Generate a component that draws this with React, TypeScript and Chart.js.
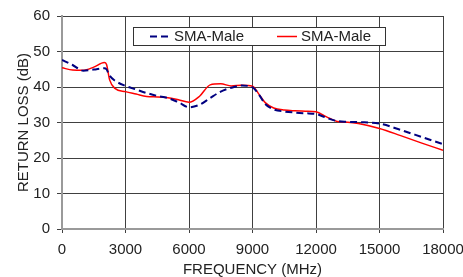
import React, { useEffect, useRef } from "react";
import { Chart, registerables } from "chart.js";

Chart.register(...registerables);

const frequencies = [0, 500, 1000, 1500, 2000, 2100, 2250, 2500, 3000, 3500, 4000, 4500, 5000, 5500, 6000, 6500, 7000, 7500, 8000, 8500, 9000, 9300, 9600, 10000, 10500, 11000, 11500, 12000, 12500, 13000, 13500, 14000, 15000, 16000, 17000, 18000];
const seriesA = [47.6, 46.2, 44.6, 44.9, 45.3, 45.0, 43.2, 41.8, 40.3, 39.3, 38.3, 37.5, 36.9, 35.7, 34.3, 35.0, 36.9, 38.7, 39.8, 40.4, 39.9, 37.9, 35.2, 33.7, 33.1, 32.8, 32.6, 32.4, 31.3, 30.4, 30.2, 30.1, 29.7, 27.9, 25.9, 23.9];
const seriesB = [45.4, 44.8, 44.7, 45.6, 46.9, 46.4, 42.0, 39.6, 38.7, 38.0, 37.3, 37.2, 37.0, 36.4, 35.7, 37.4, 40.6, 40.9, 40.3, 40.5, 40.2, 38.0, 35.6, 34.1, 33.5, 33.3, 33.2, 33.0, 31.6, 30.3, 30.1, 29.7, 28.3, 26.3, 24.2, 22.2];
const seriesLabels = ["SMA-Male", "SMA-Male"];
const xTitle = "FREQUENCY (MHz)";
const yTitle = "RETURN LOSS (dB)";

const FONT = "'Liberation Sans', Arial, sans-serif";
const TEXT = "#222222";

const legendPlugin = {
  id: "boxLegend",
  afterDraw(chart: any) {
    const ctx = chart.ctx;
    const x0 = 133.5, y0 = 27.5, w = 252, h = 18;
    ctx.save();
    ctx.fillStyle = "#ffffff";
    ctx.fillRect(x0, y0, w, h);
    ctx.strokeStyle = "#333333";
    ctx.lineWidth = 1;
    ctx.strokeRect(x0, y0, w, h);
    const cy = y0 + h / 2;
    const items = [
      { sx: 150, ex: 172, tx: 174 },
      { sx: 277, ex: 297, tx: 301 },
    ];
    chart.data.datasets.forEach((ds: any, i: number) => {
      const it = items[i];
      ctx.beginPath();
      ctx.strokeStyle = ds.borderColor;
      ctx.lineWidth = ds.borderWidth;
      ctx.setLineDash(ds.borderDash || []);
      ctx.moveTo(it.sx, cy);
      ctx.lineTo(it.ex, cy);
      ctx.stroke();
      ctx.setLineDash([]);
      ctx.fillStyle = TEXT;
      ctx.font = `15px ${FONT}`;
      ctx.textBaseline = "middle";
      ctx.textAlign = "left";
      ctx.fillText(ds.label, it.tx, cy + 0.5);
    });
    ctx.restore();
  },
};

export default function App() {
  const ref = useRef<HTMLCanvasElement | null>(null);
  useEffect(() => {
    if (!ref.current) return;
    const chart = new Chart(ref.current, {
      type: "line",
      data: {
        datasets: [
          {
            label: seriesLabels[0],
            data: frequencies.map((f, i) => ({ x: f, y: seriesA[i] })),
            borderColor: "#000080",
            borderWidth: 2,
            borderDash: [7, 4],
            pointRadius: 0,
            cubicInterpolationMode: "monotone",
            fill: false,
          },
          {
            label: seriesLabels[1],
            data: frequencies.map((f, i) => ({ x: f, y: seriesB[i] })),
            borderColor: "#ff0000",
            borderWidth: 1.5,
            pointRadius: 0,
            cubicInterpolationMode: "monotone",
            fill: false,
          },
        ],
      },
      options: {
        responsive: false,
        animation: false,
        layout: { padding: { top: 16, right: 20, left: 0, bottom: 0 } },
        plugins: { legend: { display: false }, tooltip: { enabled: false } },
        scales: {
          x: {
            type: "linear",
            min: 0,
            max: 18000,
            ticks: {
              stepSize: 3000,
              color: TEXT,
              font: { family: FONT, size: 15 },
              padding: 8,
              maxRotation: 0,
              callback: (v: any) => String(v),
            },
            grid: { color: "#404040", lineWidth: 1, tickLength: 4 },
            border: { color: "#9a9a9a", width: 2 },
            title: { display: true, text: xTitle, color: TEXT, font: { family: FONT, size: 15, lineHeight: 1 }, padding: 0 },
            afterFit(scale: any) {
              scale.height = 48;
              scale.paddingLeft = 0;
              scale.paddingRight = 0;
            },
          },
          y: {
            min: 0,
            max: 60,
            ticks: { stepSize: 10, color: TEXT, font: { family: FONT, size: 15 }, padding: 7, callback: (v: any) => String(v) },
            grid: { color: "#404040", lineWidth: 1, tickLength: 5 },
            border: { color: "#9a9a9a", width: 2 },
            title: { display: true, text: yTitle, color: TEXT, font: { family: FONT, size: 15, lineHeight: 1.2 }, padding: { top: 15, bottom: 0 } },
            afterFit(scale: any) {
              scale.width = 62;
            },
          },
        },
      },
      plugins: [legendPlugin],
    } as any);
    return () => chart.destroy();
  }, []);
  return (
    <div style={{ position: "absolute", left: 0, top: 0, width: 463, height: 277, background: "#fff" }}>
      <canvas ref={ref} width={463} height={277} />
    </div>
  );
}
